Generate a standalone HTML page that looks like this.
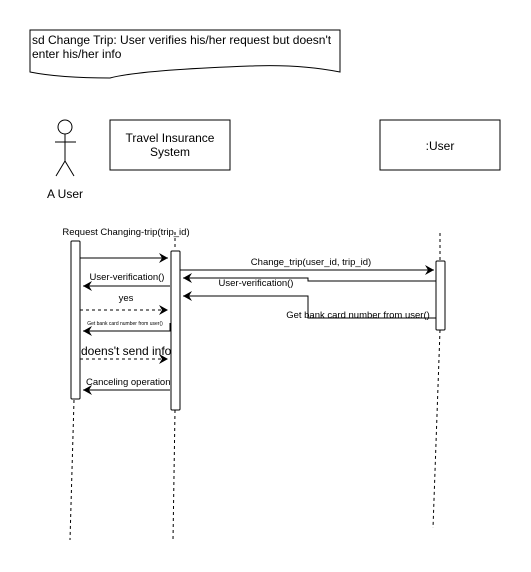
<!DOCTYPE html>
<html><head><style>body{margin:0;background:#fff}svg{display:block}text{font-family:"Liberation Sans",sans-serif;fill:#000}</style></head>
<body>
<svg width="531" height="572" viewBox="0 0 531 572" xmlns="http://www.w3.org/2000/svg">
<defs><marker id="a" markerWidth="10" markerHeight="10" refX="9" refY="5" orient="auto" markerUnits="userSpaceOnUse"><path d="M0,0 L9,5 L0,10 L3,5 Z" fill="#000"/></marker></defs>
<g stroke="#000" fill="none">
<path d="M30,30 H340 V72 Q300,64 250,66 Q140,70 110,78 Q60,78 30,72 Z" fill="#fff"/>
<circle cx="65" cy="127" r="7"/>
<path d="M65,134 V161 M55,142 H76 M65,161 L56,176 M65,161 L74,176"/>
<rect x="110" y="120" width="120" height="50"/>
<rect x="380" y="120" width="120" height="50"/>
<g stroke-dasharray="3,3">
<path d="M74,400 L70,540"/>
<path d="M175,232 V250 M175,410 L173,540"/>
<path d="M440,233 V260 M440,330 L433,528"/>
</g>
<rect x="71" y="241" width="9" height="158" rx="1" fill="#fff"/>
<rect x="171" y="251" width="9" height="159" rx="1" fill="#fff"/>
<rect x="436" y="261" width="9" height="69" rx="1" fill="#fff"/>
<path d="M80,258 H168" marker-end="url(#a)"/>
<path d="M180,270 H434" marker-end="url(#a)"/>
<path d="M436,281 H308 V278 H183" marker-end="url(#a)"/>
<path d="M170,286 H83" marker-end="url(#a)"/>
<path d="M80,310 H168" stroke-dasharray="3,3" marker-end="url(#a)"/>
<path d="M436,318 H308 V296 H183" marker-end="url(#a)"/>
<path d="M170,323 V331 H83" marker-end="url(#a)"/>
<path d="M80,359 H168" stroke-dasharray="3,3" marker-end="url(#a)"/>
<path d="M170,390 H83" marker-end="url(#a)"/>
</g>
<text x="32" y="44" font-size="12">sd Change Trip: User verifies his/her request but doesn't</text>
<text x="32" y="58" font-size="12">enter his/her info</text>
<text x="65" y="198" font-size="12" text-anchor="middle">A User</text>
<text x="170" y="142" font-size="12" text-anchor="middle">Travel Insurance</text>
<text x="170" y="156" font-size="12" text-anchor="middle">System</text>
<text x="440" y="150" font-size="12" text-anchor="middle">:User</text>
<g font-size="9.5">
<text x="126" y="235" text-anchor="middle">Request Changing-trip(trip_id)</text>
<text x="311" y="265" text-anchor="middle">Change_trip(user_id, trip_id)</text>
<text x="256" y="286" text-anchor="middle">User-verification()</text>
<text x="127" y="280" text-anchor="middle">User-verification()</text>
<text x="126" y="301" text-anchor="middle">yes</text>
<text x="358" y="318" text-anchor="middle">Get bank card number from user()</text>
<text x="86" y="385" text-anchor="start">Canceling operation</text>
</g>
<text x="125" y="325" font-size="5" text-anchor="middle">Get bank card number from user()</text>
<text x="81" y="355" font-size="12">doens't send info</text>
</svg>
</body></html>
